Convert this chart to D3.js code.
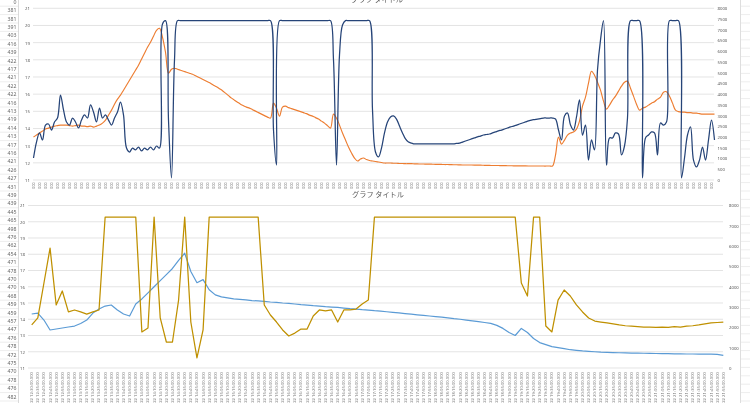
<!DOCTYPE html>
<html>
<head>
<meta charset="utf-8">
<script src="https://cdn.jsdelivr.net/npm/d3@7"></script>
<style>
  body { margin: 0; background: #fff; }
  svg { display: block; font-family: "Noto Sans CJK JP", "Noto Sans", sans-serif; will-change: transform; }
</style>
</head>
<body>
<svg id="chart" width="750" height="403"></svg>
<script>
// spreadsheet column visible at the left edge
const sheetCol = [0, 381, 381, 391, 403, 416, 439, 422, 417, 421, 422, 422, 416, 413, 419, 414, 413, 417,
  416, 421, 426, 427, 431, 439, 439, 445, 465, 498, 476, 462, 454, 471, 478, 470, 470, 468, 459, 459,
  457, 447, 476, 478, 472, 475, 470, 478, 476, 482];

// top chart: navy on the primary axis, orange on the secondary axis
const topNavy = [12.28, 13.21, 13.74, 13.33, 14.2, 14.26, 13.91, 14.38, 14.61, 15.95,
  15.08, 14.38, 14.2, 14.61, 14.38, 14.03, 14.49, 14.79, 14.61, 15.37,
  14.96, 14.38, 15.19, 14.61, 14.79, 14.49, 14.2, 14.61, 14.96, 15.54,
  14.79, 12.86, 12.63, 12.86, 12.75, 12.92, 12.69, 12.86, 12.75, 12.92,
  12.75, 12.98, 12.86, 20.09, 20.28, 14.49, 11.12, 17.99, 20.28, 20.28,
  20.28, 20.28, 20.28, 20.28, 20.28, 20.28, 20.28, 20.28, 20.28, 20.28,
  20.28, 20.28, 20.28, 20.28, 20.28, 20.28, 20.28, 20.28, 20.28, 20.28,
  20.28, 20.28, 20.28, 20.28, 20.28, 20.28, 20.28, 20.28, 20.28, 20.28,
  13.91, 11.87, 20.28, 20.28, 20.28, 20.28, 20.28, 20.28, 20.28, 20.28,
  20.28, 20.28, 20.28, 20.28, 20.28, 20.28, 20.28, 20.28, 20.28, 20.28,
  17.99, 11.87, 18.28, 20.03, 20.28, 20.28, 20.28, 20.28, 20.28, 20.28,
  20.28, 20.28, 20.28, 15.08, 12.63, 12.34, 12.86, 13.74, 14.38, 14.67,
  14.73, 14.55, 14.14, 13.74, 13.39, 13.21, 13.15, 13.1, 13.1, 13.1,
  13.1, 13.1, 13.1, 13.1, 13.1, 13.1, 13.1, 13.1, 13.1, 13.1,
  13.1, 13.13, 13.15, 13.21, 13.27, 13.33, 13.39, 13.45, 13.51, 13.56,
  13.62, 13.65, 13.68, 13.74, 13.8, 13.86, 13.91, 13.97, 14.03, 14.09,
  14.14, 14.2, 14.26, 14.32, 14.38, 14.44, 14.49, 14.52, 14.55, 14.58,
  14.61, 14.61, 14.61, 14.61, 14.55, 13.91, 13.33, 14.73, 14.9, 14.2,
  13.91, 14.67, 15.66, 13.62, 14.2, 12.16, 13.33, 12.75, 17.41, 19.15,
  20.28, 11.87, 13.45, 13.45, 13.74, 13.68, 12.46, 12.98, 14.61, 20.28,
  20.28, 20.28, 20.28, 11.12, 13.45, 13.62, 13.8, 13.74, 12.46, 14.32,
  14.2, 14.38, 20.28, 20.28, 20.28, 20.28, 11.12, 12.28, 13.62, 14.09,
  12.16, 11.76, 12.16, 12.92, 12.16, 13.33, 14.49, 13.33];

const topOrange = [2000, 2093, 2186, 2279, 2372, 2418, 2465, 2511, 2534, 2558,
  2558, 2558, 2534, 2511, 2534, 2558, 2511, 2511, 2488, 2511,
  2465, 2511, 2558, 2651, 2790, 3023, 3255, 3534, 3767, 3953,
  4185, 4418, 4650, 4883, 5115, 5348, 5627, 5906, 6185, 6417,
  6696, 6975, 7068, 6650, 5952, 4976, 5162, 5208, 5162, 5115,
  5069, 5022, 4976, 4929, 4859, 4790, 4720, 4650, 4580, 4511,
  4418, 4348, 4255, 4162, 4046, 3929, 3813, 3720, 3627, 3534,
  3464, 3395, 3348, 3278, 3209, 3139, 3069, 2999, 2930, 2883,
  3581, 3348, 2976, 3395, 3441, 3371, 3325, 3278, 3232, 3185,
  3139, 3092, 3023, 2976, 2906, 2837, 2744, 2651, 2534, 2418,
  3069, 2883, 2558, 2186, 1860, 1535, 1256, 1023, 884, 977,
  1023, 953, 907, 884, 860, 837, 814, 791, 791, 791,
  780, 780, 770, 770, 760, 760, 760, 750, 750, 744,
  744, 740, 740, 735, 730, 730, 725, 720, 720, 715,
  710, 710, 705, 700, 700, 698, 698, 695, 690, 690,
  685, 680, 680, 676, 674, 674, 670, 670, 665, 665,
  660, 660, 658, 656, 655, 654, 653, 652, 651, 651,
  650, 650, 651, 651, 1163, 2000, 1674, 1860, 2093, 2186,
  2232, 2372, 2744, 3441, 3860, 4511, 5069, 4883, 4557, 4185,
  3674, 3302, 3488, 3720, 3906, 4139, 4371, 4557, 4604, 4278,
  3906, 3534, 3255, 3348, 3395, 3488, 3581, 3650, 3767, 3860,
  4092, 4115, 3906, 3581, 3255, 3185, 3162, 3162, 3139, 3139,
  3116, 3116, 3092, 3069, 3069, 3069, 3069, 3069];

// bottom chart: gold on the primary axis, light blue on the secondary axis
const botGold = [13.65, 14.08, 16.23, 18.38, 14.88, 15.74, 14.45, 14.57, 14.45, 14.32,
  14.45, 14.57, 20.29, 20.29, 20.29, 20.29, 20.29, 20.29, 13.22, 13.46,
  20.29, 14.08, 12.6, 12.6, 15.18, 20.29, 13.83, 11.62, 13.34, 20.29,
  20.29, 20.29, 20.29, 20.29, 20.29, 20.29, 20.29, 20.29, 14.88, 14.26,
  13.83, 13.34, 12.97, 13.15, 13.4, 13.4, 14.2, 14.57, 14.51, 14.57,
  13.83, 14.57, 14.57, 14.63, 14.94, 15.18, 20.29, 20.29, 20.29, 20.29,
  20.29, 20.29, 20.29, 20.29, 20.29, 20.29, 20.29, 20.29, 20.29, 20.29,
  20.29, 20.29, 20.29, 20.29, 20.29, 20.29, 20.29, 20.29, 20.29, 20.29,
  16.23, 15.43, 20.29, 20.29, 13.58, 13.22, 15.18, 15.8, 15.43, 14.88,
  14.45, 14.08, 13.89, 13.83, 13.77, 13.71, 13.65, 13.6, 13.58, 13.55,
  13.52, 13.52, 13.5, 13.52, 13.5, 13.55, 13.52, 13.58, 13.6, 13.65,
  13.71, 13.77, 13.8, 13.83];

const botBlue = [2657, 2706, 2362, 1870, 1919, 1968, 2017, 2066, 2189, 2362,
  2706, 2903, 3050, 3100, 2854, 2657, 2558, 3150, 3400, 3700,
  4000, 4300, 4600, 4900, 5300, 5650, 4750, 4200, 4350, 3850,
  3600, 3500, 3450, 3400, 3380, 3350, 3320, 3300, 3280, 3250,
  3230, 3200, 3180, 3150, 3120, 3100, 3070, 3050, 3020, 3000,
  2980, 2950, 2920, 2900, 2870, 2850, 2820, 2800, 2770, 2740,
  2710, 2680, 2650, 2620, 2590, 2560, 2530, 2500, 2470, 2430,
  2400, 2360, 2320, 2280, 2240, 2200, 2100, 1950, 1750, 1600,
  1950, 1750, 1450, 1250, 1150, 1050, 1000, 950, 900, 870,
  840, 820, 800, 780, 770, 760, 750, 740, 735, 730,
  725, 720, 715, 710, 705, 700, 695, 690, 690, 685,
  680, 680, 675, 620];

// sample times (category labels)
const sampleTimes = [
  "12:30", "12:35", "12:40", "12:45", "12:50", "12:55",
  "13:00", "13:05", "13:10", "13:15", "13:20", "13:25", "13:30", "13:35", "13:40", "13:45", "13:50", "13:55",
  "14:00", "14:05", "14:10", "14:15", "14:20", "14:25", "14:30", "14:35", "14:40", "14:45", "14:50", "14:55",
  "15:00", "15:05", "15:10", "15:15", "15:20", "15:25", "15:30", "15:35", "15:40", "15:45", "15:50", "15:55",
  "16:00", "16:05", "16:10", "16:15", "16:20", "16:25", "16:30", "16:35", "16:40", "16:45", "16:50", "16:55",
  "17:00", "17:05", "17:10", "17:15", "17:20", "17:25", "17:30", "17:35", "17:40", "17:45", "17:50", "17:55",
  "18:00", "18:05", "18:10", "18:15", "18:20", "18:25", "18:30", "18:35", "18:40", "18:45", "18:50", "18:55",
  "19:00", "19:05", "19:10", "19:15", "19:20", "19:25", "19:30", "19:35", "19:40", "19:45", "19:50", "19:55",
  "20:00", "20:05", "20:10", "20:15", "20:20", "20:25", "20:30", "20:35", "20:40", "20:45", "20:50", "20:55",
  "21:00", "21:05", "21:10", "21:15", "21:20", "21:25", "21:30", "21:35", "21:40", "21:45", "21:50", "21:55"];
const labelDate = "06/22";

const leftTicks = [11, 12, 13, 14, 15, 16, 17, 18, 19, 20, 21];
const topRightTicks = [0, 500, 1000, 1500, 2000, 2500, 3000, 3500, 4000, 4500, 5000,
  5500, 6000, 6500, 7000, 7500, 8000];
const botRightTicks = [0, 1000, 2000, 3000, 4000, 5000, 6000, 7000, 8000];
const title = "グラフ タイトル";

const botLabels = sampleTimes.map(t => `${labelDate} ${t}:00.000`);

const svg = d3.select("#chart");
const grid = "#d9d9d9", txt = "#595959";

// ---- spreadsheet cells ----
const rowH = 8.4, row0 = -2.7;
const sheet = svg.append("g");
sheet.selectAll("line.r").data(d3.range(sheetCol.length + 1)).join("line")
  .attr("x1", 0).attr("x2", 18.5)
  .attr("y1", k => row0 + k * rowH + 0.5).attr("y2", k => row0 + k * rowH + 0.5)
  .attr("stroke", "#e1e1e1").attr("stroke-width", 0.6);
sheet.append("line").attr("x1", 18.5).attr("x2", 18.5).attr("y1", 0).attr("y2", 403)
  .attr("stroke", "#d0d0d0").attr("stroke-width", 0.8);
sheet.selectAll("text").data(sheetCol).join("text")
  .attr("x", 16.5).attr("y", (d, k) => row0 + k * rowH + rowH / 2 + 2.2)
  .attr("text-anchor", "end").attr("font-size", 5.2).style("fill", "#666")
  .attr("font-family", "'Noto Sans', sans-serif")
  .text(d => d);
// right side cells
svg.append("line").attr("x1", 740.5).attr("x2", 740.5).attr("y1", 0).attr("y2", 403)
  .attr("stroke", "#d6d6d6").attr("stroke-width", 0.8);
svg.selectAll("line.rr").data(d3.range(50)).join("line")
  .attr("x1", 741).attr("x2", 750)
  .attr("y1", k => row0 + k * rowH + 0.5).attr("y2", k => row0 + k * rowH + 0.5)
  .attr("stroke", "#e1e1e1").attr("stroke-width", 0.6);

function drawChart(g, o) {
  const n = o.a.length;
  const x = d3.scalePoint().domain(d3.range(n)).range([o.x0, o.x1]);
  const yL = d3.scaleLinear().domain([11, 21]).range([o.yb, o.yt]);
  const yR = d3.scaleLinear().domain([0, 8000]).range([o.yb, o.yt]);

  g.selectAll("line.grid").data(leftTicks).join("line")
    .attr("x1", o.gx0).attr("x2", o.gx1)
    .attr("y1", d => yL(d)).attr("y2", d => yL(d))
    .attr("stroke", grid).attr("stroke-width", 0.7);

  const la = g.append("g").attr("transform", `translate(${o.lx},0)`)
    .call(d3.axisLeft(yL).tickValues(leftTicks).tickFormat(d3.format("d")).tickSize(0).tickPadding(0));
  const ra = g.append("g").attr("transform", `translate(${o.rx},0)`)
    .call(d3.axisRight(yR).tickValues(o.rTicks).tickFormat(d3.format("d")).tickSize(0).tickPadding(0));
  [la, ra].forEach(a => {
    a.select(".domain").remove();
    a.selectAll("text").style("fill", txt).attr("font-size", 4.3)
      .attr("font-family", "'Noto Sans', sans-serif");
  });

  const lineA = d3.line().x((d, i) => x(i)).y(d => yL(d)).curve(o.curve);
  const lineB = d3.line().x((d, i) => x(i)).y(d => yR(d)).curve(o.curve);
  g.append("path").datum(o.b).attr("d", lineB).attr("fill", "none")
    .attr("stroke", o.cb).attr("stroke-width", o.wb).attr("stroke-linejoin", "round");
  g.append("path").datum(o.a).attr("d", lineA).attr("fill", "none")
    .attr("stroke", o.ca).attr("stroke-width", o.wa).attr("stroke-linejoin", "round");

  // category labels, rotated and clipped by the chart edge
  const clipId = "clip" + o.id;
  g.append("clipPath").attr("id", clipId).append("rect")
    .attr("x", o.x0 - 10).attr("y", o.labTop).attr("width", o.x1 - o.x0 + 20).attr("height", o.labH);
  const labs = g.append("g").attr("clip-path", `url(#${clipId})`);
  labs.selectAll("text").data(o.labels).join("text")
    .attr("transform", (d, k) => `translate(${x(k * o.labStep) + o.labFs * 0.35},${o.labTop + 0.5}) rotate(-90)`)
    .attr("text-anchor", "end").attr("font-size", o.labFs).style("fill", "#7a7a7a")
    .attr("font-family", "'Noto Sans', sans-serif")
    .text(d => d);

  g.append("text").attr("x", o.tx).attr("y", o.ty).attr("text-anchor", "middle")
    .attr("font-size", 7.2).style("fill", txt).text(title);
}

drawChart(svg.append("g"), {
  id: "top", a: topNavy, b: topOrange, ca: "#264478", cb: "#ed7d31", wa: 1.25, wb: 1.15,
  x0: 33.5, x1: 714.5, gx0: 33, gx1: 714, yb: 180, yt: 8.3, lx: 30, rx: 717.5,
  rTicks: topRightTicks, curve: d3.curveCatmullRom.alpha(0.5),
  labels: botLabels, labStep: 2, labTop: 182, labH: 7, labFs: 3.6,
  tx: 377, ty: 2.4
});

drawChart(svg.append("g"), {
  id: "bot", a: botGold, b: botBlue, ca: "#bf9000", cb: "#5b9bd5", wa: 1.25, wb: 1.2,
  x0: 31.7, x1: 723.3, gx0: 28, gx1: 723, yb: 368, yt: 205.5, lx: 25, rx: 729,
  rTicks: botRightTicks, curve: d3.curveLinear,
  labels: botLabels, labStep: 1, labTop: 371.5, labH: 40, labFs: 4.2,
  tx: 378, ty: 197
});
</script>
</body>
</html>
